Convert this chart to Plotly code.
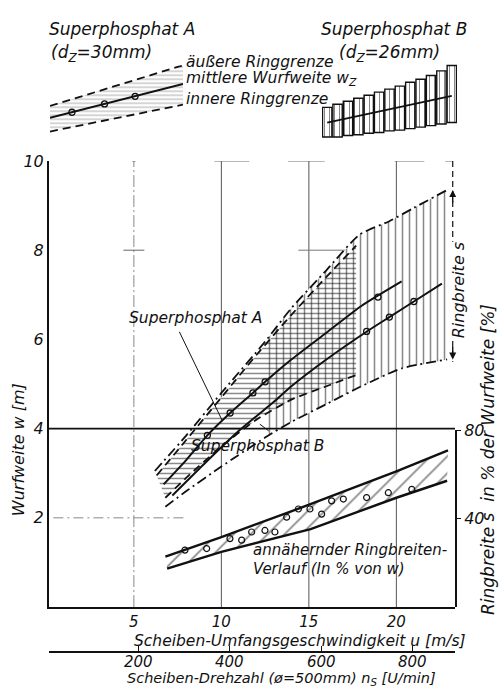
import numpy as np
import plotly.graph_objects as go

# ---- Superphosphat A (d_Z = 30 mm): throw distance w [m] over disc speed u [m/s]
a_outer_u = [6.3, 8.0, 10.0, 12.0, 14.0, 16.0, 17.7]
a_outer_w = [2.95, 3.75, 4.70, 5.65, 6.55, 7.40, 8.10]
a_inner_u = [6.8, 8.0, 10.0, 12.0, 14.0, 16.0, 17.7]
a_inner_w = [2.45, 2.90, 3.60, 4.20, 4.65, 4.95, 5.20]
a_mean_u = [6.7, 8.0, 9.2, 10.5, 11.8, 12.5, 14.0, 16.0, 18.0, 20.3]
a_mean_w = [2.75, 3.30, 3.85, 4.35, 4.80, 5.05, 5.55, 6.15, 6.75, 7.30]
a_pts_u = [9.2, 10.5, 11.8, 12.5, 18.95]
a_pts_w = [3.85, 4.35, 4.80, 5.05, 6.95]

# ---- Superphosphat B (d_Z = 26 mm)
b_outer_u = [6.2, 8.0, 10.0, 12.5, 14.0, 16.0, 17.9, 19.6, 21.0, 22.9]
b_outer_w = [3.05, 3.85, 4.80, 5.95, 6.70, 7.55, 8.35, 8.65, 8.95, 9.35]
b_inner_u = [6.8, 8.0, 10.0, 12.5, 14.0, 16.0, 18.0, 20.3, 22.9]
b_inner_w = [2.25, 2.60, 3.15, 3.80, 4.15, 4.55, 4.95, 5.35, 5.55]
b_mean_u = [7.2, 9.0, 11.0, 13.0, 14.0, 16.0, 18.4, 19.6, 21.0, 22.6]
b_mean_w = [2.50, 3.20, 3.95, 4.60, 4.95, 5.55, 6.20, 6.50, 6.85, 7.25]
b_pts_u = [18.3, 19.6, 21.0]
b_pts_w = [6.18, 6.50, 6.85]
b_hatch_from = 12.5

# ---- approximate ring width s in % of w
s_upper_u = [6.8, 10.0, 14.9, 20.0, 22.95]
s_upper = [22.8, 31.7, 46.0, 61.5, 71.0]
s_lower_u = [6.9, 10.0, 15.1, 20.0, 22.9]
s_lower = [17.4, 25.0, 35.3, 49.5, 57.2]
s_pts_u = [7.92, 9.16, 10.49, 11.16, 11.73, 12.49, 13.06, 13.73, 14.4, 15.06,
           15.73, 16.3, 16.97, 18.3, 19.54, 20.88]
s_pts = [25.8, 26.5, 31.0, 30.3, 34.0, 34.7, 34.0, 40.7, 44.4, 44.4,
         42.1, 48.1, 48.9, 49.6, 51.8, 53.3]

# ---- key samples
key_a_x = [0.0, 1.0]
key_a_outer = [0.41, 1.00]
key_a_mean = [0.24, 0.73]
key_a_inner = [0.04, 0.43]
key_a_pts_x = [0.165, 0.41, 0.64]
key_a_pts_y = [0.32, 0.44, 0.55]
key_b_x = list(range(13))
key_b_top = [0.42, 0.46, 0.50, 0.54, 0.58, 0.62, 0.66, 0.70, 0.75, 0.79, 0.84, 0.90, 0.97]
key_b_bottom = [0.03, 0.03, 0.05, 0.06, 0.08, 0.09, 0.11, 0.12, 0.14, 0.16, 0.18, 0.20, 0.22]
key_b_mean = [0.22, 0.25, 0.28, 0.31, 0.33, 0.36, 0.39, 0.42, 0.45, 0.48, 0.51, 0.54, 0.57]

u_ticks = [5, 10, 15, 20]
w_ticks = [2, 4, 6, 8, 10]
s_ticks = [40, 80]
n_ticks = [200, 400, 600, 800]
U_RANGE = [0.15, 23.35]
N_PER_U = 60.0 / (np.pi * 0.5)   # disc diameter 500 mm

W, H = 501, 687
def px(x):
    return x / W
def py(y):
    return 1 - y / H

INK = "#111111"
FONT = "DejaVu Sans"
fig = go.Figure()

def closed(u1, w1, u2, w2):
    return list(u1) + list(u2)[::-1], list(w1) + list(w2)[::-1]

# white underlay for band A
pu, pw = closed(a_outer_u, a_outer_w, a_inner_u, a_inner_w)
fig.add_trace(go.Scatter(x=pu, y=pw, fill="toself", fillcolor="white",
                         line=dict(width=0), mode="lines", hoverinfo="skip"))
# band B vertical hatching
bo = [(u, w) for u, w in zip(b_outer_u, b_outer_w) if u >= b_hatch_from]
bi = [(u, w) for u, w in zip(b_inner_u, b_inner_w) if u >= b_hatch_from]
pu, pw = closed([p[0] for p in bo], [p[1] for p in bo], [p[0] for p in bi], [p[1] for p in bi])
fig.add_trace(go.Scatter(x=pu, y=pw, fill="toself", mode="lines", line=dict(width=0),
                         fillpattern=dict(shape="|", size=7, solidity=0.22,
                                          fgcolor=INK, bgcolor="white"),
                         hoverinfo="skip"))
# band A horizontal hatching
pu, pw = closed(a_outer_u, a_outer_w, a_inner_u, a_inner_w)
fig.add_trace(go.Scatter(x=pu, y=pw, fill="toself", mode="lines", line=dict(width=0),
                         fillcolor="rgba(0,0,0,0)",
                         fillpattern=dict(shape="-", size=5, solidity=0.3,
                                          fgcolor=INK, bgcolor="rgba(0,0,0,0)"),
                         hoverinfo="skip"))

DASH = "8px,5px"
DASHDOT = "10px,4px,2px,4px"
for u, w, d in [(a_outer_u, a_outer_w, DASH), (a_inner_u, a_inner_w, DASH),
                (b_outer_u, b_outer_w, DASHDOT), (b_inner_u, b_inner_w, DASHDOT)]:
    fig.add_trace(go.Scatter(x=u, y=w, mode="lines",
                             line=dict(color=INK, width=1.8, dash=d, shape="spline",
                                       smoothing=0.6)))
for u, w in [(a_mean_u, a_mean_w), (b_mean_u, b_mean_w)]:
    fig.add_trace(go.Scatter(x=u, y=w, mode="lines",
                             line=dict(color=INK, width=2, shape="spline", smoothing=0.6)))
fig.add_trace(go.Scatter(x=a_pts_u + b_pts_u, y=a_pts_w + b_pts_w, mode="markers",
                         marker=dict(symbol="circle-open", size=6, color=INK,
                                     line=dict(width=1.3))))

# ring width band (right axis, %)
pu, pw = closed(s_upper_u, s_upper, s_lower_u, s_lower)
fig.add_trace(go.Scatter(x=pu, y=pw, xaxis="x", yaxis="y2", fill="toself", mode="lines",
                         line=dict(width=0),
                         fillpattern=dict(shape="/", size=12, solidity=0.14,
                                          fgcolor=INK, bgcolor="white"),
                         hoverinfo="skip"))
for u, s in [(s_upper_u, s_upper), (s_lower_u, s_lower)]:
    fig.add_trace(go.Scatter(x=u, y=s, xaxis="x", yaxis="y2", mode="lines",
                             line=dict(color=INK, width=2.4)))
fig.add_trace(go.Scatter(x=s_pts_u, y=s_pts, xaxis="x", yaxis="y2", mode="markers",
                         marker=dict(symbol="circle-open", size=6, color=INK,
                                     line=dict(width=1.2))))

# key A sample
fig.add_trace(go.Scatter(x=key_a_x + key_a_x[::-1], y=key_a_outer + key_a_inner[::-1],
                         xaxis="x3", yaxis="y3", fill="toself", mode="lines",
                         line=dict(width=0),
                         fillpattern=dict(shape="-", size=4, solidity=0.25,
                                          fgcolor="#555", bgcolor="white")))
for y, d, wd in [(key_a_outer, DASH, 1.8), (key_a_inner, DASH, 1.8), (key_a_mean, None, 2)]:
    fig.add_trace(go.Scatter(x=key_a_x, y=y, xaxis="x3", yaxis="y3", mode="lines",
                             line=dict(color=INK, width=wd, dash=d)))
fig.add_trace(go.Scatter(x=key_a_pts_x, y=key_a_pts_y, xaxis="x3", yaxis="y3",
                         mode="markers", marker=dict(symbol="circle-open", size=6,
                                                     color=INK, line=dict(width=1.3))))
# key B sample
fig.add_trace(go.Bar(x=key_b_x, y=[t - b for t, b in zip(key_b_top, key_b_bottom)],
                     base=key_b_bottom, xaxis="x4", yaxis="y4", width=0.9,
                     marker=dict(color="white", line=dict(color=INK, width=1.4),
                                 pattern=dict(shape="|", size=5, solidity=0.2,
                                              fgcolor=INK, bgcolor="white"))))
fig.add_trace(go.Scatter(x=key_b_x, y=key_b_mean, xaxis="x4", yaxis="y4", mode="lines",
                         line=dict(color=INK, width=1.8)))

# ---- reference lines
shapes = []
def seg(x0, y0, x1, y1, width=1, color="#333", dash=None, yref="y", layer="below"):
    shapes.append(dict(type="line", xref="x", yref=yref, x0=x0, y0=y0, x1=x1, y1=y1,
                       layer=layer, line=dict(color=color, width=width, dash=dash)))
for u in u_ticks:
    seg(u, 0, u, 10, width=1, color="#555" if u != 5 else "#888",
        dash=None if u != 5 else "12px,3px,2px,3px")
seg(U_RANGE[0], 4, U_RANGE[1], 4, width=1.6, color=INK, layer="above")
seg(0.4, 2, 8.0, 2, width=1, color="#888", dash="10px,4px,2px,4px")
seg(4.4, 8, 5.6, 8, width=1, color="#666")
seg(14.4, 8, 17.3, 8, width=1, color="#777")
for a, b in [(4.9, 5.1), (9.6, 11.6), (13.8, 15.9), (19.9, 21.6), (22.8, 23.2)]:
    seg(a, 10, b, 10, width=1, color="#666")
# ring width dimension
seg(23.22, 10, 23.22, 5.5, width=1.2, color=INK, dash="6px,4px", layer="above")
# leader lines
for (x0, y0, x1, y1) in [(7.6, 6.17, 10.05, 4.18), (12.2, 4.1, 12.7, 3.95)]:
    seg(x0, y0, x1, y1, width=1, color=INK, layer="above")

# ---- axes
tickfont = dict(family=FONT, size=16, color=INK, style="italic")
smallfont = dict(family=FONT, size=15, color=INK, style="italic")
lay = dict(
    width=W, height=H, margin=dict(l=0, r=0, t=0, b=0),
    paper_bgcolor="white", plot_bgcolor="rgba(0,0,0,0)", showlegend=False,
    font=dict(family=FONT, size=15, color=INK, style="italic"),
    xaxis=dict(domain=[px(49), px(455)], range=U_RANGE, anchor="y",
               showline=True, linecolor=INK, linewidth=2, ticks="",
               tickvals=u_ticks, showgrid=False, zeroline=False, tickfont=smallfont),
    yaxis=dict(domain=[py(606), py(154)], range=[0, 10], anchor="x",
               showline=True, linecolor=INK, linewidth=2, ticks="",
               tickvals=w_ticks, showgrid=False, zeroline=False, tickfont=tickfont),
    yaxis2=dict(domain=[py(606), py(427)], range=[0, 80], anchor="x", side="right",
                showline=True, linecolor=INK, linewidth=2, ticks="outside", ticklen=4,
                tickcolor=INK, tickvals=s_ticks, showgrid=False, zeroline=False,
                tickfont=tickfont),
    # rpm scale: line and inward ticks only, labels placed as annotations below
    xaxis2=dict(overlaying="x", anchor="free", position=py(652), side="bottom",
                domain=[px(49), px(455)],
                range=[U_RANGE[0] * N_PER_U, U_RANGE[1] * N_PER_U],
                showline=True, linecolor=INK, linewidth=2, ticks="inside", ticklen=5,
                tickcolor=INK, tickvals=[U_RANGE[0] * N_PER_U] + n_ticks,
                showticklabels=False, showgrid=False, zeroline=False),
    xaxis3=dict(domain=[px(50), px(183)], range=[0, 1], anchor="y3", visible=False),
    yaxis3=dict(domain=[py(127), py(57)], range=[0, 1], anchor="x3", visible=False),
    xaxis4=dict(domain=[px(322), px(457)], range=[-0.5, 12.5], anchor="y4", visible=False),
    yaxis4=dict(domain=[py(132), py(55)], range=[0, 1], anchor="x4", visible=False),
)
fig.update_layout(**lay)
# keeps the rpm axis drawn
fig.add_trace(go.Scatter(x=[None], y=[None], xaxis="x2", yaxis="y"))

ann = []
def text(t, x, y, xanchor="left", size=15, angle=0, bg=None):
    d = dict(text=t, x=px(x), y=py(y), xref="paper", yref="paper",
             xanchor=xanchor, yanchor="middle", showarrow=False,
             textangle=angle, font=dict(size=size), borderpad=0)
    if bg:
        d["bgcolor"] = bg
    ann.append(d)
text("Superphosphat A", 48, 20, size=17)
text("(d<sub>Z</sub>=30mm)", 50, 45, size=17)
text("äußere Ringgrenze", 185, 54, size=15.5)
text("mittlere Wurfweite w<sub>Z</sub>", 185, 71, size=15.5)
text("innere Ringgrenze", 185, 91, size=15.5)
text("Superphosphat B", 320, 20, size=17)
text("(d<sub>Z</sub>=26mm)", 338, 45, size=17)
text("Superphosphat A", 128, 313, size=15.5)
text("Superphosphat B", 190, 443, size=15.5)
text("annähernder Ringbreiten-", 252, 548)
text("Verlauf (In % von w)", 252, 567)
text("Scheiben-Umfangsgeschwindigkeit u [m/s]", 133, 640, size=15.5)
text("Scheiben-Drehzahl (ø=500mm) n<sub>S</sub> [U/min]", 126, 679, size=14.5)
text("Wurfweite w [m]", 18, 447, xanchor="center", angle=-90, size=16)
text("Ringbreite s  in % der Wurfweite [%]", 488, 457, xanchor="center", angle=-90, size=17)
text("Ringbreite s", 458, 285, xanchor="center", angle=-90, size=16, bg="white")

# rpm tick labels
for n in n_ticks:
    ann.append(dict(text=str(n), x=n, xref="x2", y=py(662), yref="paper",
                    xanchor="center", yanchor="middle", showarrow=False,
                    font=dict(size=15), borderpad=0))

# ring-width arrows
for yv, ay in [(9.35, 14), (5.55, -14)]:
    ann.append(dict(x=23.22, y=yv, xref="x", yref="y", ax=0, ay=ay, text="",
                    showarrow=True, arrowhead=2, arrowsize=1, arrowwidth=1.4,
                    arrowcolor=INK))
fig.update_layout(annotations=ann, shapes=shapes)

fig.write_html("out.html")
